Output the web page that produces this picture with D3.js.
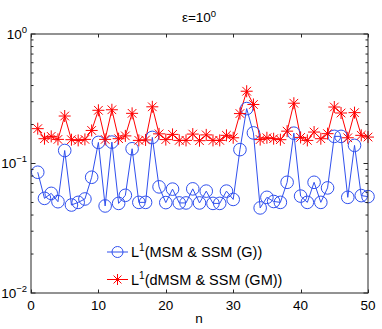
<!DOCTYPE html>
<html>
<head>
<meta charset="utf-8">
<script src="https://cdn.jsdelivr.net/npm/d3@7"></script>
<style>
  body { margin: 0; background: #fff; }
  svg { display: block; }
  text { font-family: "Liberation Sans", Arial, sans-serif; fill: #000; }
</style>
</head>
<body>
<svg id="chart" width="382" height="329"></svg>
<script>
const nValues = d3.range(1, 51);
const seriesNames = ["MSM & SSM (G)", "dMSM & SSM (GM)"];
const blueValues = [
  0.0856, 0.0538, 0.0588, 0.0507, 0.126, 0.0478, 0.0501, 0.0532, 0.0783, 0.1455,
  0.0470, 0.1463, 0.0492, 0.0568, 0.130, 0.0501, 0.0501, 0.159, 0.0660, 0.0499,
  0.0634, 0.0496, 0.0496, 0.0637, 0.0496, 0.0612, 0.0492, 0.0492, 0.0612, 0.0528,
  0.128, 0.2655, 0.1723, 0.0454, 0.0548, 0.0509, 0.0501, 0.0716, 0.1714, 0.0560,
  0.0501, 0.0716, 0.0501, 0.0648, 0.162, 0.162, 0.0548, 0.138, 0.0565, 0.0555
];
const redValues = [
  0.1858, 0.1554, 0.162, 0.1535, 0.2326, 0.1527, 0.1508, 0.1535, 0.180, 0.2575,
  0.1535, 0.260, 0.1554, 0.1634, 0.244, 0.1508, 0.152, 0.274, 0.1694, 0.153,
  0.1678, 0.1508, 0.1508, 0.1687, 0.150, 0.1663, 0.1508, 0.1508, 0.165, 0.158,
  0.243, 0.3615, 0.2856, 0.153, 0.158, 0.1554, 0.1527, 0.1777, 0.292, 0.159,
  0.1508, 0.1749, 0.1554, 0.170, 0.273, 0.2454, 0.158, 0.247, 0.165, 0.160
];
const xTicks = [0, 10, 20, 30, 40, 50];
const yTickExps = [0, -1, -2];

const svg = d3.select("#chart");
const L = 31, R = 368, T = 34, B = 293;
const x = d3.scaleLinear().domain([0, 50]).range([L, R]);
const y = d3.scaleLog().domain([0.01, 1]).range([B, T]);
const blue = "#3050ee", red = "#ff0000", axisCol = "#262626";
const fs = 13.5, supFs = 9.5;

// Title
const title = svg.append("text").attr("x", 199).attr("y", 22).attr("text-anchor", "middle").style("font-size", fs + "px");
title.append("tspan").text("ε=10");
title.append("tspan").attr("dy", -5).style("font-size", supFs + "px").text("0");

// Data lines
const line = d3.line().x((d, i) => x(nValues[i])).y(d => y(d));
svg.append("path").datum(blueValues).attr("d", line).attr("fill", "none").attr("stroke", blue).attr("stroke-width", 1);
svg.append("path").datum(redValues).attr("d", line).attr("fill", "none").attr("stroke", red).attr("stroke-width", 1);

// Markers
function asterisk(g, cx, cy, r) {
  const d = r * 0.72;
  g.append("path")
    .attr("d", `M${cx - r},${cy}L${cx + r},${cy}M${cx},${cy - r}L${cx},${cy + r}M${cx - d},${cy - d}L${cx + d},${cy + d}M${cx - d},${cy + d}L${cx + d},${cy - d}`)
    .attr("stroke", red).attr("stroke-width", 1).attr("fill", "none");
}
const bm = svg.append("g");
bm.selectAll("circle").data(blueValues).join("circle")
  .attr("cx", (d, i) => x(nValues[i])).attr("cy", d => y(d)).attr("r", 6.3)
  .attr("fill", "none").attr("stroke", blue).attr("stroke-width", 1);
const rm = svg.append("g");
redValues.forEach((d, i) => asterisk(rm, x(nValues[i]), y(d), 6));

// Axes box
svg.append("rect").attr("x", L).attr("y", T).attr("width", R - L).attr("height", B - T)
  .attr("fill", "none").attr("stroke", axisCol).attr("stroke-width", 1);

// X ticks
const tl = 3.5;
xTicks.forEach(t => {
  const px = Math.round(x(t)) + 0.5;
  svg.append("line").attr("x1", px).attr("x2", px).attr("y1", B).attr("y2", B - tl).attr("stroke", axisCol);
  svg.append("line").attr("x1", px).attr("x2", px).attr("y1", T).attr("y2", T + tl).attr("stroke", axisCol);
  svg.append("text").attr("x", x(t)).attr("y", 309.5).attr("text-anchor", "middle").style("font-size", fs + "px").text(t);
});

// Y ticks (major + minor)
yTickExps.forEach(e => {
  const py = y(Math.pow(10, e));
  svg.append("line").attr("x1", L).attr("x2", L + tl + 1).attr("y1", py).attr("y2", py).attr("stroke", axisCol);
  svg.append("line").attr("x1", R).attr("x2", R - tl - 1).attr("y1", py).attr("y2", py).attr("stroke", axisCol);
  const t = svg.append("text").attr("x", 27).attr("y", py + 4.8).attr("text-anchor", "end").style("font-size", fs + "px");
  t.append("tspan").text("10");
  t.append("tspan").attr("dy", -6).style("font-size", supFs + "px").text(e === 0 ? "0" : "\u2212" + (-e));
});
[-2, -1].forEach(e => {
  for (let k = 2; k <= 9; k++) {
    const py = y(k * Math.pow(10, e));
    svg.append("line").attr("x1", L).attr("x2", L + tl - 1).attr("y1", py).attr("y2", py).attr("stroke", axisCol);
    svg.append("line").attr("x1", R).attr("x2", R - tl + 1).attr("y1", py).attr("y2", py).attr("stroke", axisCol);
  }
});

// X label
svg.append("text").attr("x", 199).attr("y", 323).attr("text-anchor", "middle").style("font-size", fs + "px").text("n");

// Legend
const legY = [252, 279.5];
const lg = svg.append("g");
seriesNames.forEach((name, i) => {
  const col = i === 0 ? blue : red;
  lg.append("line").attr("x1", 107).attr("x2", 128).attr("y1", legY[i]).attr("y2", legY[i]).attr("stroke", col);
  if (i === 0) {
    lg.append("circle").attr("cx", 117.5).attr("cy", legY[i]).attr("r", 5.5).attr("fill", "none").attr("stroke", blue);
  } else {
    asterisk(lg, 117.5, legY[i], 5.5);
  }
  const t = lg.append("text").attr("x", 131).attr("y", legY[i] + 5).style("font-size", "14.5px");
  t.append("tspan").text("L");
  t.append("tspan").attr("dy", -6).style("font-size", "10px").text("1");
  t.append("tspan").attr("dy", 6).text("(" + name + ")");
});
</script>
</body>
</html>
